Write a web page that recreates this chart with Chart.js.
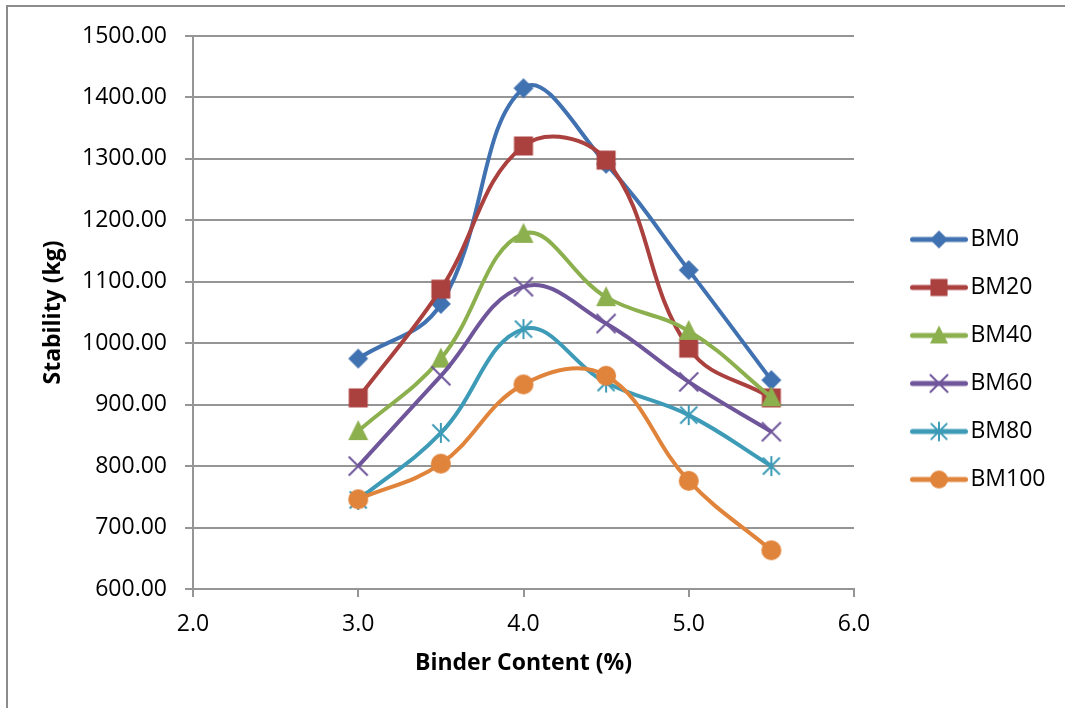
<!DOCTYPE html>
<html>
<head>
<meta charset="utf-8">
<script src="https://cdn.jsdelivr.net/npm/chart.js@4.4.1/dist/chart.umd.min.js"></script>
<style>
  html, body { margin: 0; padding: 0; background: #fff; }
  #wrap { position: relative; width: 1065px; height: 708px; overflow: hidden; }
  #frame { position: absolute; left: 6px; top: 5px; width: 1200px; height: 800px; border: 2px solid #8c8c8c; }
  #c { position: absolute; left: 0; top: 0; }
</style>
</head>
<body>
<div id="wrap"><div id="frame"></div><canvas id="c" width="1065" height="708"></canvas></div>
<script>
// data
const binderContent = [3.0, 3.5, 4.0, 4.5, 5.0, 5.5];
const bm0   = [975, 1064, 1415, 1292, 1119, 940];
const bm20  = [911, 1088, 1321, 1298, 992, 911];
const bm40  = [857, 975, 1178, 1075, 1020, 912];
const bm60  = [800, 947, 1092, 1032, 937, 856];
const bm80  = [745, 854, 1023, 936, 883, 800];
const bm100 = [746, 804, 933, 947, 776, 663];
const seriesNames = ['BM0', 'BM20', 'BM40', 'BM60', 'BM80', 'BM100'];
const xTicks = [2, 3, 4, 5, 6];
const yTicks = [600, 700, 800, 900, 1000, 1100, 1200, 1300, 1400, 1500];

const colors = ['#4071b0', '#ab413f', '#8db04f', '#6f559a', '#3d9bb7', '#e1843b'];
const shapes = ['diamond', 'square', 'triangle', 'x', 'star', 'circle'];
const allValues = [bm0, bm20, bm40, bm60, bm80, bm100];

const FONT = '"Open Sans", "Liberation Sans", sans-serif';
const GRID = '#959595';

function drawMarker(g, shape, cx, cy, s, color) {
    g.fillStyle = color;
    g.strokeStyle = color;
    g.beginPath();
    if (shape === 'diamond') {
        g.moveTo(cx, cy - s); g.lineTo(cx + s, cy); g.lineTo(cx, cy + s); g.lineTo(cx - s, cy);
        g.closePath(); g.fill();
    } else if (shape === 'square') {
        const h = s * 0.95;
        g.rect(cx - h, cy - h, 2 * h, 2 * h); g.fill();
    } else if (shape === 'triangle') {
        g.moveTo(cx, cy - s * 1.1); g.lineTo(cx + s, cy + s * 0.9); g.lineTo(cx - s, cy + s * 0.9);
        g.closePath(); g.fill();
    } else if (shape === 'circle') {
        g.arc(cx, cy, s, 0, Math.PI * 2); g.fill();
    } else if (shape === 'x') {
        const d = s * 0.95;
        g.lineWidth = 2;
        g.moveTo(cx - d, cy - d); g.lineTo(cx + d, cy + d);
        g.moveTo(cx + d, cy - d); g.lineTo(cx - d, cy + d);
        g.stroke();
    } else if (shape === 'star') {
        const d = s * 0.85;
        g.lineWidth = 2;
        g.moveTo(cx - d, cy - d); g.lineTo(cx + d, cy + d);
        g.moveTo(cx + d, cy - d); g.lineTo(cx - d, cy + d);
        g.moveTo(cx, cy - s); g.lineTo(cx, cy + s);
        g.stroke();
    }
}

// marker used on the plotted points
function pointIcon(i) {
    const c = document.createElement('canvas');
    c.width = 28; c.height = 28;
    drawMarker(c.getContext('2d'), shapes[i], 14, 14, 10, colors[i]);
    return c;
}

// line + marker used in the legend
function legendIcon(i) {
    const c = document.createElement('canvas');
    c.width = 58; c.height = 26;
    const g = c.getContext('2d');
    g.strokeStyle = colors[i];
    g.lineWidth = 5;
    g.lineCap = 'round';
    g.beginPath(); g.moveTo(2.5, 13); g.lineTo(55.5, 13); g.stroke();
    drawMarker(g, shapes[i], 29, 13, 9, colors[i]);
    return c;
}

const legendIcons = seriesNames.map((n, i) => legendIcon(i));

const datasets = seriesNames.map((name, i) => ({
    label: name,
    data: binderContent.map((x, j) => ({ x: x, y: allValues[i][j] })),
    borderColor: colors[i],
    backgroundColor: colors[i],
    borderWidth: 4,
    tension: 0.4,
    pointStyle: pointIcon(i),
    pointRadius: 10,
    pointHoverRadius: 10,
    order: seriesNames.length - i,
    clip: false
}));

// pin the legend box to where the picture has it
const legendPlace = {
    id: 'legendPlace',
    afterInit(chart) {
        const lg = chart.legend;
        const fit = lg.fit;
        lg.fit = function () { fit.call(this); this.width = 211; };
    },
    afterLayout(chart) {
        const lg = chart.legend;
        lg.left = 894; lg.right = 1065;
        lg.top = 203; lg.bottom = 700;
    }
};

new Chart(document.getElementById('c'), {
    type: 'line',
    data: { datasets: datasets },
    plugins: [legendPlace],
    options: {
        responsive: false,
        animation: false,
        devicePixelRatio: 1,
        events: [],
        layout: { padding: { left: 0, right: 0, top: 36, bottom: 0 } },
        plugins: {
            tooltip: { enabled: false },
            legend: {
                position: 'right',
                align: 'start',
                labels: {
                    usePointStyle: true,
                    pointStyleWidth: 40,
                    padding: 25,
                    color: '#000',
                    font: { family: FONT, size: 23 },
                    generateLabels: (chart) => chart.data.datasets.map((ds, i) => ({
                        text: ds.label,
                        fillStyle: colors[i],
                        strokeStyle: colors[i],
                        lineWidth: 0,
                        pointStyle: legendIcons[i],
                        fontColor: '#000',
                        hidden: false,
                        datasetIndex: i
                    }))
                }
            }
        },
        scales: {
            x: {
                type: 'linear',
                min: 2, max: 6,
                afterBuildTicks: (s) => { s.ticks = xTicks.map(v => ({ value: v })); },
                afterFit: (s) => { s.height = 119; },
                grid: { drawOnChartArea: false, drawTicks: true, tickLength: 8, color: GRID, lineWidth: 2 },
                border: { display: true, color: GRID, width: 2 },
                ticks: {
                    padding: 14,
                    color: '#000',
                    font: { family: FONT, size: 23 },
                    maxRotation: 0,
                    callback: (v) => Number(v).toFixed(1)
                },
                title: {
                    display: true,
                    text: 'Binder Content (%)',
                    color: '#000',
                    font: { family: FONT, size: 23, weight: 'bold' },
                    padding: { top: 0, bottom: 31 }
                }
            },
            y: {
                type: 'linear',
                min: 600, max: 1500,
                afterBuildTicks: (s) => { s.ticks = yTicks.map(v => ({ value: v })); },
                afterFit: (s) => { s.width = 193; },
                grid: { drawTicks: true, tickLength: 8, color: GRID, lineWidth: 2 },
                border: { display: true, color: GRID, width: 2 },
                ticks: {
                    padding: 18,
                    color: '#000',
                    font: { family: FONT, size: 23 },
                    callback: (v) => Number(v).toFixed(2)
                },
                title: {
                    display: true,
                    text: 'Stability (kg)',
                    color: '#000',
                    font: { family: FONT, size: 23, weight: 'bold' },
                    padding: { top: 40, bottom: 0 }
                }
            }
        }
    }
});
</script>
</body>
</html>
